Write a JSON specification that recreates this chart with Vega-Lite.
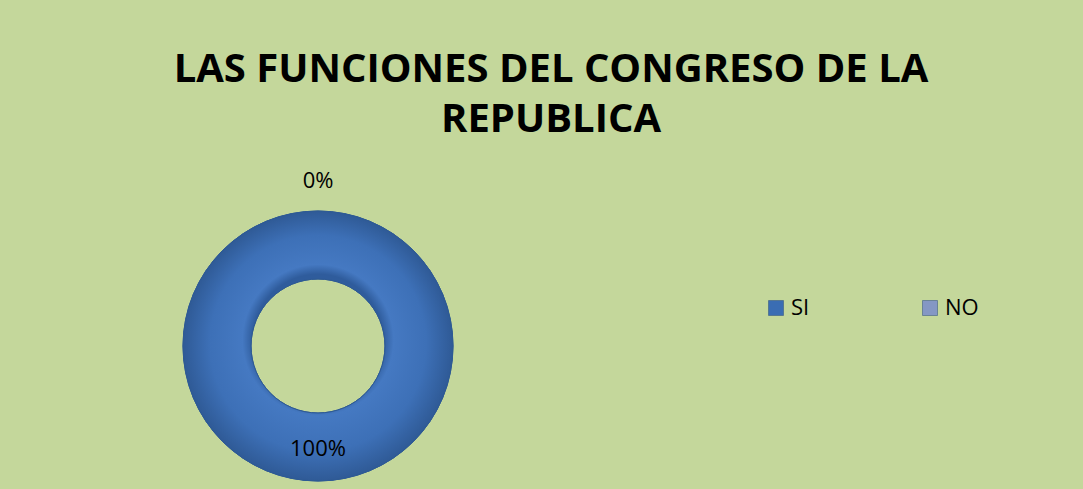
{
  "$schema": "https://vega.github.io/schema/vega-lite/v6.json",
  "description": "Donut chart: las funciones del Congreso de la Republica",
  "autosize": "none",
  "width": 270,
  "height": 270,
  "padding": {"left": 183, "top": 211, "right": 630, "bottom": 8},
  "background": "#C4D79B",
  "title": {
    "text": ["LAS FUNCIONES DEL CONGRESO DE LA", "REPUBLICA"],
    "font": "Open Sans",
    "fontSize": 40,
    "fontWeight": "bold",
    "color": "#000000",
    "anchor": "middle",
    "frame": "group",
    "dx": 233,
    "offset": 30,
    "lineHeight": 50
  },
  "data": {
    "values": [
      {"cat": "SI", "value": 100, "label": "100%"},
      {"cat": "NO", "value": 0, "label": "0%"}
    ]
  },
  "encoding": {
    "theta": {"field": "value", "type": "quantitative", "stack": true}
  },
  "layer": [
    {
      "mark": {"type": "arc", "radius": 135, "radius2": 67, "stroke": "#2E5A94", "strokeWidth": 1},
      "encoding": {
        "color": {
          "field": "cat",
          "type": "nominal",
          "sort": ["SI", "NO"],
          "scale": {"domain": ["SI", "NO"], "range": ["#3A6DB3", "#8497C4"]},
          "legend": {
            "title": null,
            "orient": "none",
            "direction": "horizontal",
            "columns": 2,
            "legendX": 582,
            "legendY": 86,
            "symbolType": "square",
            "symbolSize": 225,
            "symbolStrokeColor": "#2E4F7A",
            "symbolStrokeWidth": 0.5,
            "labelFont": "Open Sans",
            "labelFontSize": 22,
            "labelColor": "#000000",
            "labelOffset": 4,
            "columnPadding": 109,
            "padding": 0
          }
        }
      }
    },
    {
      "transform": [{"filter": "datum.cat === 'SI'"}],
      "mark": {
        "type": "arc",
        "radius": 135,
        "radius2": 67,
        "stroke": "#2E5A94",
        "strokeWidth": 1,
        "fill": {
          "gradient": "radial",
          "x1": 0.5, "y1": 0.45, "r1": 0,
          "x2": 0.5, "y2": 0.5, "r2": 0.5,
          "stops": [
            {"offset": 0.48, "color": "#2F5C9C"},
            {"offset": 0.56, "color": "#4579C2"},
            {"offset": 0.8, "color": "#3D70B7"},
            {"offset": 1, "color": "#2F5A96"}
          ]
        }
      }
    },
    {
      "transform": [{"filter": "datum.cat === 'SI'"}],
      "mark": {"type": "text", "radius": 103, "font": "Open Sans", "fontSize": 22, "color": "#000000"},
      "encoding": {"text": {"field": "label", "type": "nominal"}}
    },
    {
      "transform": [{"filter": "datum.cat === 'NO'"}],
      "mark": {"type": "text", "radius": 165, "font": "Open Sans", "fontSize": 22, "color": "#000000"},
      "encoding": {"text": {"field": "label", "type": "nominal"}}
    }
  ],
  "config": {
    "view": {"stroke": null}
  }
}
